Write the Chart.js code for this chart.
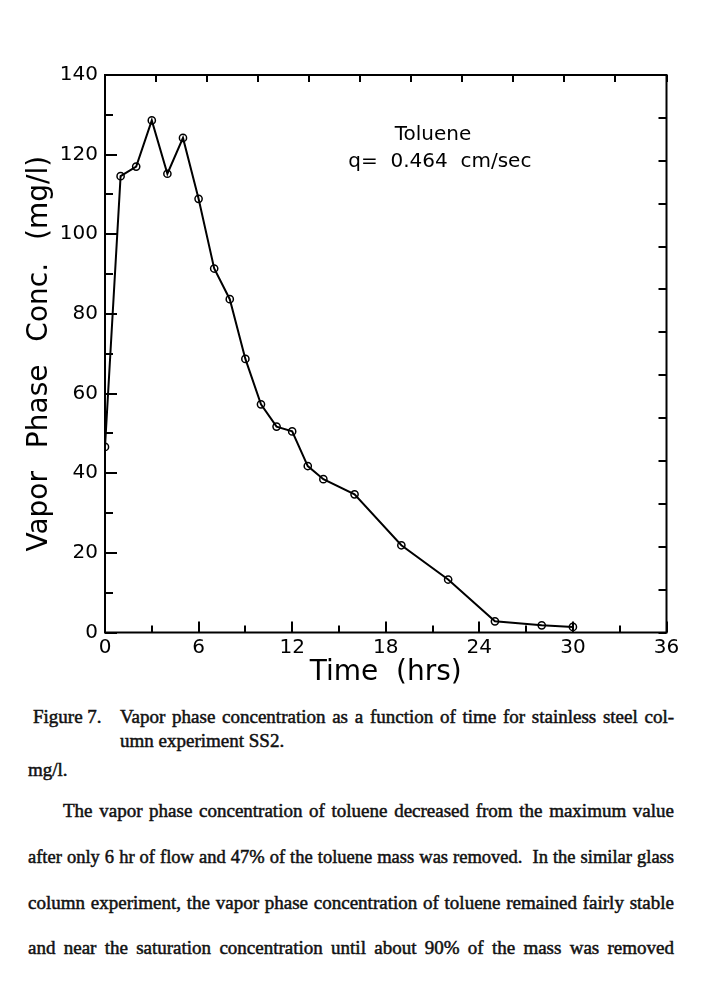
<!DOCTYPE html>
<html><head><meta charset="utf-8">
<script src="https://cdn.jsdelivr.net/npm/chart.js@4.4.1/dist/chart.umd.min.js"></script>
<style>
html,body{margin:0;padding:0;background:#fff}
body{width:702px;height:995px;position:relative;overflow:hidden}
#c{position:absolute;left:0;top:0}
.t{position:absolute;font-family:"Liberation Serif","Times New Roman",serif;font-size:19px;line-height:22px;color:#111;white-space:nowrap;-webkit-text-stroke:0.5px #111}
.j{text-align:justify;text-align-last:justify}
</style></head><body>
<canvas id="c" width="702" height="700"></canvas>
<div class="t" style="left:33px;top:706px">Figure 7.</div>
<div class="t j" style="left:120px;top:706px;width:554px">Vapor phase concentration as a function of time for stainless steel col-</div>
<div class="t" style="left:120px;top:730px">umn experiment SS2.</div>
<div class="t" style="left:28px;top:759px">mg/l.</div>
<div class="t j" style="left:63px;top:800px;width:611px">The vapor phase concentration of toluene decreased from the maximum value</div>
<div class="t j" style="left:28px;top:846px;width:646px">after only 6 hr of flow and 47% of the toluene mass was removed.&nbsp; In the similar glass</div>
<div class="t j" style="left:28px;top:892px;width:646px">column experiment, the vapor phase concentration of toluene remained fairly stable</div>
<div class="t j" style="left:28px;top:937px;width:646px">and near the saturation concentration until about 90% of the mass was removed</div>
<script>
// fit justified text lines that would overflow their width
document.querySelectorAll('.j').forEach(el => {
  let fs = 19;
  const w = parseFloat(el.style.width);
  el.style.textAlignLast = 'left'; el.style.textAlign = 'left';
  el.style.width = 'auto';
  while (el.getBoundingClientRect().width > w && fs > 12) { fs -= 0.25; el.style.fontSize = fs + 'px'; }
  el.style.width = w + 'px';
  el.style.textAlign = 'justify'; el.style.textAlignLast = 'justify';
});

// ---- data ----
const timeHrs   = [0, 1, 2, 3, 4, 5, 6, 7, 8, 9, 10, 11, 12, 13, 14, 16, 19, 22, 25, 28, 30];
const vaporConc = [46.6, 114.6, 117.0, 128.6, 115.2, 124.2, 108.9, 91.4, 83.7, 68.7, 57.3, 51.7, 50.5, 41.8, 38.5, 34.7, 21.9, 13.3, 2.8, 1.8, 1.4];
const xTickLabels = [0, 6, 12, 18, 24, 30, 36];
const yTickLabels = [0, 20, 40, 60, 80, 100, 120, 140];
const annotationLines = ["Toluene", "q=  0.464  cm/sec"];
const xTitle = "Time  (hrs)";
const yTitle = "Vapor \u2002Phase \u2002Conc. \u2002(mg/l)";

const points = timeHrs.map((t, i) => ({x: t, y: vaporConc[i]}));

const FONT = '"DejaVu Sans", sans-serif';

const framePlugin = {
  id: 'frame',
  afterDraw(chart) {
    const ctx = chart.ctx, a = chart.chartArea;
    const sx = chart.scales.x, sy = chart.scales.y, sx2 = chart.scales.x2, sy2 = chart.scales.y2;
    ctx.save();
    ctx.strokeStyle = '#000';
    ctx.lineWidth = 2;
    ctx.lineCap = 'butt';
    ctx.beginPath();
    sx.ticks.forEach(t => {
      const p = Math.round(sx.getPixelForValue(t.value));
      const len = xTickLabels.includes(t.value) ? 11 : 7;
      ctx.moveTo(p, a.bottom); ctx.lineTo(p, a.bottom - len);
    });
    sy.ticks.forEach(t => {
      const p = Math.round(sy.getPixelForValue(t.value));
      const len = yTickLabels.includes(t.value) ? 12 : 8;
      ctx.moveTo(a.left, p); ctx.lineTo(a.left + len, p);
    });
    sx2.ticks.forEach(t => {
      const p = Math.round(sx2.getPixelForValue(t.value));
      ctx.moveTo(p, a.top); ctx.lineTo(p, a.top + 7);
    });
    sy2.ticks.forEach(t => {
      const p = Math.round(sy2.getPixelForValue(t.value));
      ctx.moveTo(a.right, p); ctx.lineTo(a.right - 8, p);
    });
    ctx.stroke();
    ctx.strokeRect(a.left, a.top, a.right - a.left, a.bottom - a.top);
    // annotation
    ctx.fillStyle = '#000';
    ctx.font = '20px ' + FONT;
    ctx.textBaseline = 'alphabetic';
    ctx.textAlign = 'left';
    ctx.fillText(annotationLines[0], sx.getPixelForValue(18.57), sy.getPixelForValue(123.7));
    ctx.fillText(annotationLines[1], sx.getPixelForValue(15.6), sy.getPixelForValue(116.8));
    ctx.restore();
  }
};

new Chart(document.getElementById('c'), {
  type: 'line',
  data: {
    datasets: [{
      data: points,
      borderColor: '#000',
      borderWidth: 2,
      pointRadius: 3.6,
      pointBorderWidth: 1.5,
      pointBorderColor: '#000',
      pointBackgroundColor: 'rgba(0,0,0,0)',
      tension: 0,
      fill: false,
      xAxisID: 'x',
      yAxisID: 'y'
    }]
  },
  options: {
    responsive: false,
    animation: false,
    devicePixelRatio: 1,
    layout: {padding: 0},
    plugins: {legend: {display: false}, tooltip: {enabled: false}},
    scales: {
      x: {
        type: 'linear', position: 'bottom', min: 0, max: 36,
        grid: {display: false, drawTicks: false},
        border: {display: false},
        ticks: {
          stepSize: 3, autoSkip: false, maxRotation: 0, padding: 3,
          color: '#000', font: {family: FONT, size: 20},
          callback: v => xTickLabels.includes(v) ? String(v) : ''
        },
        title: {display: true, text: xTitle, color: '#000', font: {family: FONT, size: 28, lineHeight: 1.2}, padding: {top: 0, bottom: 10}},
        afterFit: s => { s.height = 67.5; }
      },
      y: {
        type: 'linear', position: 'left', min: 0, max: 140,
        grid: {display: false, drawTicks: false},
        border: {display: false},
        ticks: {
          stepSize: 10, autoSkip: false, padding: 7,
          color: '#000', font: {family: FONT, size: 20},
          callback: v => yTickLabels.includes(v) ? String(v) : ''
        },
        title: {display: true, text: yTitle, color: '#000', font: {family: FONT, size: 28, lineHeight: 1.2}, padding: {top: 23, bottom: 0}},
        afterFit: s => { s.width = 105; }
      },
      x2: {
        type: 'linear', position: 'top', min: 0, max: 11,
        grid: {display: false, drawTicks: false},
        border: {display: false},
        ticks: {display: false, stepSize: 1},
        afterFit: s => { s.height = 75; }
      },
      y2: {
        type: 'linear', position: 'right', min: 0, max: 13,
        grid: {display: false, drawTicks: false},
        border: {display: false},
        ticks: {display: false, stepSize: 1},
        afterFit: s => { s.width = 35.5; }
      }
    }
  },
  plugins: [framePlugin]
});
</script>
</body></html>
